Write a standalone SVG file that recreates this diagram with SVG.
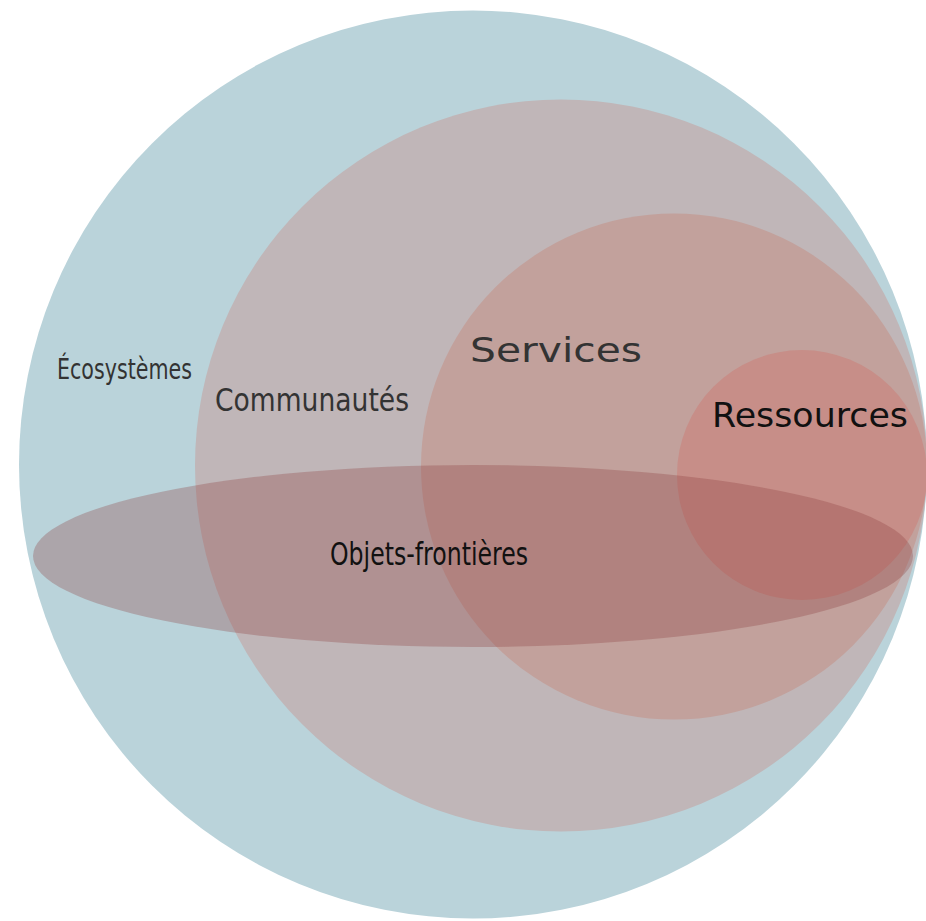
<svg xmlns="http://www.w3.org/2000/svg" width="926" height="921" viewBox="0 0 926 921">
  <style>
    .lbl { font-family: "DejaVu Sans", "Liberation Sans", sans-serif; }
    .dark { fill: #333333; }
    .black { fill: #111111; }
  </style>
  <rect width="926" height="921" fill="#ffffff"/>
  <g id="ecosystemes">
    <circle cx="473" cy="464.5" r="454" fill="#bad3da"/>
  </g>
  <g id="communautes">
    <circle cx="561" cy="465.5" r="366" fill="#c0b6b8"/>
  </g>
  <g id="services">
    <circle cx="674" cy="466.5" r="253" fill="#c2a19c"/>
  </g>
  <g id="ressources">
    <circle cx="802" cy="475" r="125" fill="#c78e88"/>
  </g>
  <g id="objets-frontieres">
    <ellipse cx="473" cy="556" rx="440" ry="91" fill="#8b3a3a" fill-opacity="0.3"/>
  </g>
  <g id="labels">
    <text class="lbl dark" x="57" y="379" font-size="29" textLength="135" lengthAdjust="spacingAndGlyphs">Écosystèmes</text>
    <text class="lbl dark" x="215" y="411" font-size="32" textLength="194" lengthAdjust="spacingAndGlyphs">Communautés</text>
    <text class="lbl dark" x="470" y="362" font-size="34" textLength="172" lengthAdjust="spacingAndGlyphs">Services</text>
    <text class="lbl black" x="712" y="427" font-size="33" textLength="196" lengthAdjust="spacingAndGlyphs">Ressources</text>
    <text class="lbl black" x="330" y="565" font-size="32" textLength="198" lengthAdjust="spacingAndGlyphs">Objets-frontières</text>
  </g>
</svg>
